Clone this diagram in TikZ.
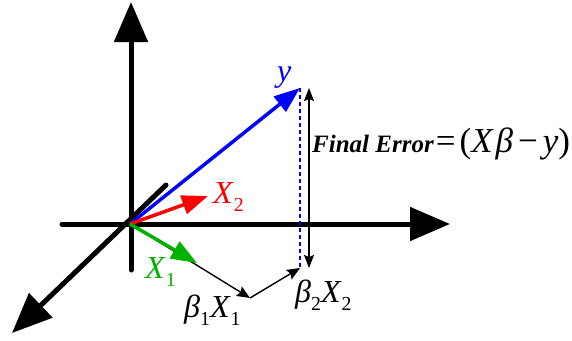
\documentclass[tikz,border=0pt]{standalone}
\usepackage{fontspec}
\setmainfont{Liberation Serif}
\usetikzlibrary{arrows.meta}
\definecolor{vecblue}{RGB}{0,0,255}
\definecolor{vecred}{RGB}{255,0,0}
\definecolor{vecgreen}{RGB}{0,178,0}
\newcommand{\veclbl}[2]{\textit{#1}\raisebox{-0.26em}{\scalebox{0.62}{#2}}}

\begin{document}
\begin{tikzpicture}[
    x=1pt, y=-1pt,
    axis/.style={line width=5pt, line cap=round, -{Triangle[length=40pt, width=33pt]}},
    vec/.style={line width=3.5pt, -{Triangle[length=26pt, width=19pt]}},
    thinarr/.style={line width=1.4pt, -{Stealth[length=13pt, width=11pt, inset=2pt]}},
    lbl/.style={inner sep=0pt, anchor=base west, font=\fontsize{32}{32}\selectfont},
]
\useasboundingbox (0,0) rectangle (572,340);

% Points
\coordinate (O)     at (130,224);
\coordinate (vtop)  at (131,2);
\coordinate (vbot)  at (131,270);
\coordinate (hleft) at (62,224);
\coordinate (hright) at (450,224);
\coordinate (dtop)  at (166,185);
\coordinate (dbot)  at (12,333);
\coordinate (ytip)  at (300,88);
\coordinate (xtwo)  at (208,196);
\coordinate (xone)  at (197,263);
\coordinate (b1)    at (250,298);
\coordinate (b2)    at (300,268);

% Axes
\draw[axis] (vbot) -- (vtop);
\draw[axis] (hleft) -- (hright);
\draw[axis] (dtop) -- (dbot);

% Projection path
\draw[thinarr] (O) -- (b1);
\draw[thinarr] (b1) -- (b2);
\draw[vecblue, line width=1.3pt, dash pattern=on 4pt off 3pt] (ytip) -- (b2);
\draw[line width=1.3pt, {Stealth[length=13pt, width=10pt, inset=2pt]}-{Stealth[length=13pt, width=10pt, inset=2pt]}]
    ([xshift=9pt]ytip) -- ([xshift=9pt]b2);

% Vectors
\draw[vec, vecblue] (O) -- (ytip);
\draw[vec, vecred] (O) -- (xtwo);
\draw[vec, vecgreen] (O) -- (xone);

% Labels
\node[lbl, text=vecblue] (ylbl) at (277,81) {\textit{y}};
\node[lbl, text=vecred] (xtwolbl) at (213,203) {\veclbl{X}{2}};
\node[lbl, text=vecgreen] (xonelbl) at (145,278) {\veclbl{X}{1}};
\node[lbl] (b1lbl) at (184,317) {\veclbl{β}{1}\veclbl{X}{1}};
\node[lbl] (b2lbl) at (295,302) {\veclbl{β}{2}\veclbl{X}{2}};
\node[lbl, font=\fontsize{25}{25}\selectfont\bfseries\itshape] (errlbl) at (312,152)
    {Final Error\textup{\mdseries\fontsize{35}{35}\selectfont\kern2pt=\kern4pt(\textit{X\kern3ptβ}\kern5pt−\kern5pt\textit{y})}};

\end{tikzpicture}
\end{document}
